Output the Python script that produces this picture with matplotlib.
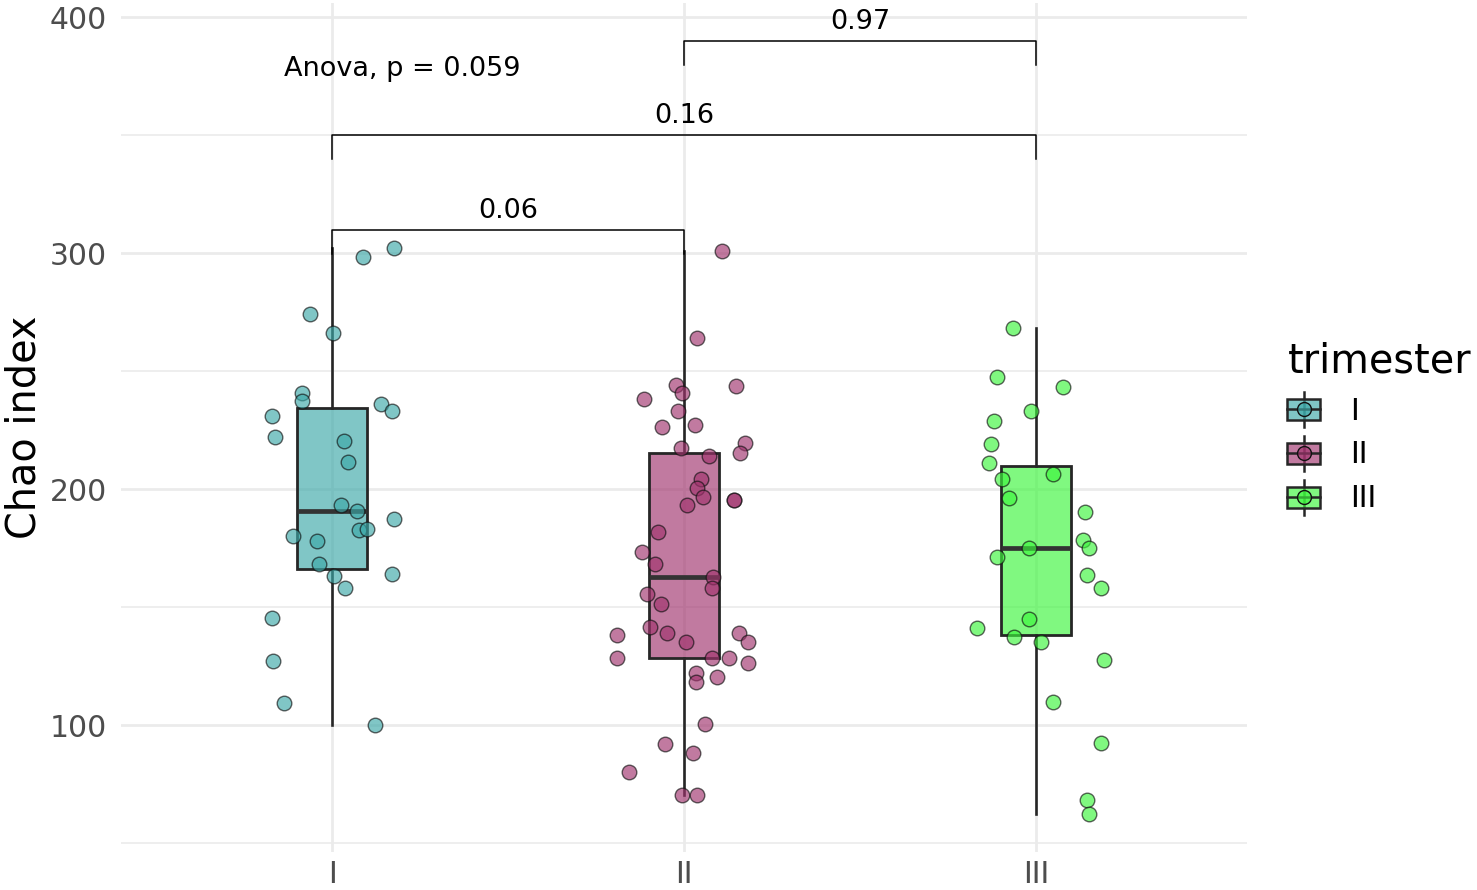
import numpy as np
import matplotlib.pyplot as plt
from matplotlib.colors import to_rgb
from matplotlib.legend_handler import HandlerBase
from matplotlib.patches import Patch, Rectangle
from matplotlib.lines import Line2D

# Chao index per sample, with horizontal jitter
groups = ['I', 'II', 'III']
colors = ['#3CA8A8', '#A0336D', '#3CF53C']

chao_I = [302.1, 298.3, 274.2, 266.1, 240.7, 237.3, 231.1, 236.0, 233.1, 222.0,
          220.3, 211.4, 193.2, 190.7, 187.3, 180.1, 178.0, 182.6, 183.1, 168.2,
          163.1, 164.0, 158.1, 145.3, 127.1, 109.3, 100.0]
jitter_I = [0.176, 0.088, -0.063, 0.003, -0.085, -0.085, -0.170, 0.139, 0.170, -0.162,
            0.034, 0.045, 0.026, 0.071, 0.176, -0.111, -0.043, 0.077, 0.099, -0.037,
            0.006, 0.170, 0.037, -0.170, -0.168, -0.136, 0.122]

chao_II = [300.8, 264.0, 244.1, 240.7, 243.6, 238.1, 233.1, 226.3, 227.1, 217.4,
           219.5, 215.3, 214.0, 204.2, 200.4, 196.6, 195.3, 195.3, 193.2, 182.0,
           173.3, 168.2, 162.7, 158.1, 155.5, 151.3, 138.1, 141.5, 139.0, 135.2,
           139.0, 135.2, 128.4, 128.4, 128.4, 126.3, 122.0, 118.2, 120.3, 100.4,
           92.0, 88.1, 80.1, 70.3, 70.3]
jitter_II = [0.108, 0.037, -0.023, -0.006, 0.148, -0.114, -0.017, -0.063, 0.031, -0.009,
             0.173, 0.159, 0.071, 0.048, 0.037, 0.054, 0.142, 0.142, 0.009, -0.074,
             -0.119, -0.082, 0.082, 0.080, -0.105, -0.065, -0.190, -0.097, -0.048, 0.006,
             0.156, 0.182, -0.190, 0.080, 0.128, 0.182, 0.034, 0.034, 0.094, 0.060,
             -0.054, 0.026, -0.156, -0.006, 0.037]

chao_III = [268.2, 247.5, 243.2, 233.1, 228.8, 219.1, 211.0, 206.4, 204.2, 196.2,
            190.3, 175.0, 178.4, 175.0, 171.2, 163.6, 158.1, 145.0, 141.1, 137.3,
            135.2, 127.5, 109.7, 92.4, 68.2, 62.3]
jitter_III = [-0.065, -0.111, 0.077, -0.014, -0.119, -0.128, -0.134, 0.048, -0.097, -0.077,
              0.139, -0.020, 0.134, 0.151, -0.111, 0.145, 0.185, -0.020, -0.168, -0.063,
              0.014, 0.193, 0.048, 0.185, 0.145, 0.151]

values = [chao_I, chao_II, chao_III]
jitters = [jitter_I, jitter_II, jitter_III]

# pairwise comparisons: (group a, group b, bracket height, p label)
pairs = [(1, 2, 309.7, '0.06'), (1, 3, 350.0, '0.16'), (2, 3, 389.8, '0.97')]
anova_label = 'Anova, p = 0.059'

fig = plt.figure(figsize=(14.77, 8.9), dpi=100)
ax = fig.add_axes([0.0819, 0.0427, 0.7624, 0.9539])

positions = np.arange(1, len(groups) + 1)
bp = ax.boxplot(values, positions=positions, widths=0.2, patch_artist=True,
                showfliers=False, showcaps=False, zorder=2,
                boxprops=dict(linewidth=2.0, edgecolor='#262626'),
                whiskerprops=dict(linewidth=1.9, color='#262626'),
                medianprops=dict(linewidth=3.4, color='#333333'))
for patch, c in zip(bp['boxes'], colors):
    patch.set_facecolor((*to_rgb(c), 0.65))

for pos, vals, jit, c in zip(positions, values, jitters, colors):
    ax.scatter(pos + np.array(jit), vals, s=110, color=c, alpha=0.65,
               edgecolors='#111111', linewidths=1.0, zorder=3)

# significance brackets
tip = 10
for a, b, h, lab in pairs:
    ax.plot([a, a, b, b], [h - tip, h, h, h - tip], color='black', lw=1.1, zorder=4)
    ax.text((a + b) / 2, h + 2.5, lab, ha='center', va='bottom', fontsize=19.5)

ax.text(0.864, 378.0, anova_label, ha='left', va='center', fontsize=19.5)

ax.set_xlim(0.4, 3.6)
ax.set_ylim(46.2, 406)
ax.set_xticks(positions)
ax.set_xticklabels(groups)
ax.set_yticks([100, 200, 300, 400])
ax.set_yticks([50, 150, 250, 350], minor=True)
ax.tick_params(axis='both', which='both', length=0, labelsize=21.5, labelcolor='#4d4d4d')
ax.tick_params(axis='y', pad=10)
ax.tick_params(axis='x', pad=6)
ax.grid(True, which='major', color='#EBEBEB', lw=2.0, zorder=0)
ax.grid(True, which='minor', axis='y', color='#EBEBEB', lw=1.2, zorder=0)
ax.set_axisbelow(True)
for s in ax.spines.values():
    s.set_visible(False)

ax.set_ylabel('Chao index', fontsize=28.6)
ax.yaxis.set_label_coords(-0.068, 0.5)


class BoxKey(HandlerBase):
    def create_artists(self, legend, orig_handle, xdescent, ydescent,
                       width, height, fontsize, trans):
        c = orig_handle.get_facecolor()
        x0, y0 = -xdescent, -ydescent
        cx, cy = x0 + width / 2, y0 + height / 2
        rh = height * 0.72
        whisker = Line2D([cx, cx], [cy - rh / 2 - 5, cy + rh / 2 + 5], color='#262626',
                         lw=1.8, transform=trans)
        box = Rectangle((x0, cy - rh / 2), width, rh, facecolor=c, edgecolor='#262626',
                        lw=1.8, transform=trans)
        mid = Line2D([x0, x0 + width], [cy, cy], color='#262626', lw=1.8, transform=trans)
        dot = Line2D([cx], [cy], marker='o', markersize=10, markerfacecolor=c,
                     markeredgecolor='#111111', markeredgewidth=1.0, transform=trans)
        return [whisker, box, mid, dot]


handles = [Patch(facecolor=(*to_rgb(c), 0.65)) for c in colors]
leg = ax.legend(handles, groups, title='trimester', loc='center left',
                bbox_to_anchor=(1.012, 0.5), frameon=False, fontsize=21.5,
                title_fontsize=28.6, handler_map={Patch: BoxKey()},
                handlelength=1.1, handleheight=1.1, labelspacing=0.45,
                handletextpad=1.0, alignment='left')

fig.savefig('out.png', dpi=100)
